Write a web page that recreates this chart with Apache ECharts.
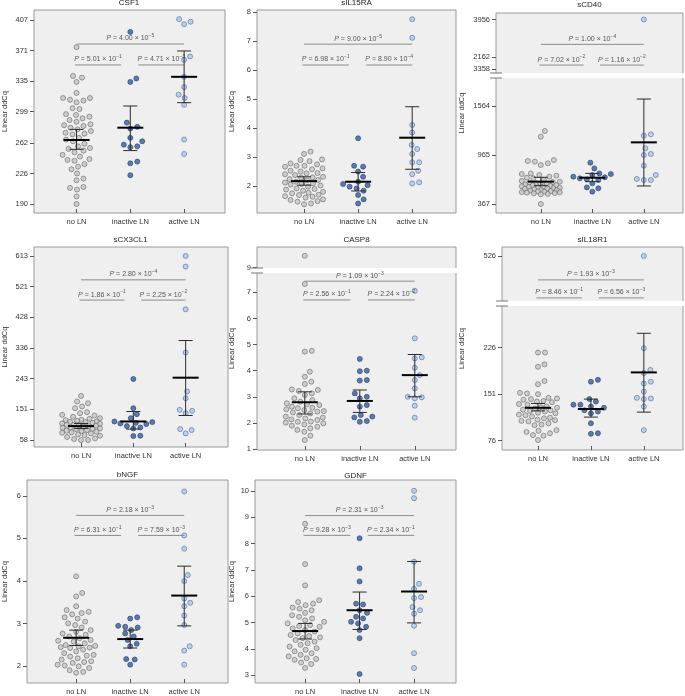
<!DOCTYPE html>
<html>
<head>
<meta charset="utf-8">
<title></title>
<script src="https://cdn.jsdelivr.net/npm/echarts@6/dist/echarts.min.js"></script>
<style>html,body{margin:0;padding:0;background:#fff}#chart{width:685px;height:696px}</style>
</head>
<body>
<div id="chart"></div>
<script>
var categories = ['no LN', 'inactive LN', 'active LN'];

// CSF1
var csf1NoLN = [375, 341, 339, 334, 321, 315, 315, 313, 312, 310, 303, 302, 296, 295, 293, 291, 289, 287, 284, 283, 282, 280, 278, 276, 274, 273, 272, 268, 266, 264, 261, 258, 256, 255, 253, 251, 248, 246, 243, 242, 241, 237, 234, 231, 226, 220, 218, 210, 209, 207, 199, 190];
var csf1Inactive = [393, 338, 334, 286, 281, 279, 268, 264, 260, 258, 257, 240, 238, 224];
var csf1Active = [408, 405, 402, 364, 360, 340, 328, 319, 315, 307, 266, 249];
var csf1Mean = [265.5, 280, 340];
var csf1Low = [254.5, 253, 309.5];
var csf1High = [278, 305.6, 370.5];
var csf1Ticks = [190, 226, 262, 299, 335, 371, 407];
var csf1P = [['4.00', '−5'], ['5.01', '−1'], ['4.71', '−3']];

// sIL15RA
var il15NoLN = [3.19, 3.11, 2.92, 2.9, 2.86, 2.78, 2.75, 2.7, 2.7, 2.67, 2.61, 2.58, 2.53, 2.5, 2.45, 2.44, 2.41, 2.38, 2.32, 2.3, 2.29, 2.24, 2.21, 2.2, 2.15, 2.12, 2.09, 2.07, 2.05, 2.02, 1.98, 1.92, 1.9, 1.88, 1.84, 1.8, 1.77, 1.75, 1.7, 1.69, 1.65, 1.63, 1.6, 1.54, 1.52, 1.48, 1.46, 1.4, 1.37];
var il15Inactive = [3.65, 2.7, 2.67, 2.5, 2.32, 2.15, 2.07, 2.03, 1.98, 1.92, 1.84, 1.69, 1.54, 1.4];
var il15Active = [7.76, 7.12, 4.11, 3.85, 3.42, 3.28, 3.11, 2.82, 2.82, 2.53, 2.41, 2.13, 2.09];
var il15Mean = [2.17, 2.15, 3.67];
var il15Low = [2.03, 1.83, 2.58];
var il15High = [2.32, 2.47, 4.74];
var il15Ticks = [2, 3, 4, 5, 6, 7, 8];
var il15P = [['9.00', '−5'], ['6.98', '−1'], ['8.90', '−4']];

// sCD40
var cd40NoLN = [1258, 1189, 904, 892, 884, 864, 843, 741, 733, 721, 713, 701, 688, 680, 660, 648, 640, 635, 627, 619, 615, 611, 605, 599, 595, 587, 583, 579, 575, 570, 565, 560, 558, 552, 546, 538, 535, 530, 525, 520, 518, 512, 510, 505, 500, 497, 490, 485, 367];
var cd40Inactive = [872, 802, 741, 733, 721, 701, 693, 680, 668, 660, 619, 570, 558, 518];
var cd40Active = [3956, 1218, 1201, 1047, 978, 965, 835, 721, 672, 660, 660];
var cd40Mean = [640, 688, 1120];
var cd40Low = [591, 640, 587];
var cd40High = [693, 741, 1649];
var cd40Ticks = [367, 965, 1564, 2162];
var cd40UpperTicks = [3358, 3956];
var cd40P = [['1.00', '−4'], ['7.02', '−2'], ['1.16', '−2']];

// sCX3CL1
var cx3NoLN = [191, 174, 169, 159, 154, 142, 139, 134, 132, 128, 124, 122, 119, 118, 116, 114, 113, 112, 110, 108, 107, 105, 104, 103, 101, 100, 98, 96, 95, 93, 92, 91, 88, 86, 85, 83, 81, 80, 78, 75, 73, 71, 67, 63, 61, 58, 58];
var cx3Inactive = [242, 154, 136, 124, 114, 112, 110, 108, 106, 100, 96, 93, 71, 70];
var cx3Active = [613, 581, 452, 322, 204, 184, 149, 146, 139, 91, 88, 78];
var cx3Mean = [100, 114, 246];
var cx3Low = [93, 91, 132];
var cx3High = [108, 144, 358];
var cx3Ticks = [58, 151, 243, 336, 428, 521, 613];
var cx3P = [['2.80', '−4'], ['1.86', '−1'], ['2.25', '−2']];

// CASP8
var casp8NoLN = [9.45, 7.32, 4.76, 4.73, 3.96, 3.77, 3.58, 3.49, 3.28, 3.26, 3.22, 3.13, 3.07, 2.94, 2.87, 2.81, 2.75, 2.71, 2.68, 2.62, 2.58, 2.56, 2.52, 2.49, 2.45, 2.43, 2.4, 2.36, 2.3, 2.24, 2.2, 2.17, 2.13, 2.11, 2.05, 2.04, 2.01, 1.98, 1.94, 1.89, 1.85, 1.79, 1.73, 1.66, 1.51, 1.34];
var casp8Inactive = [4.45, 4.0, 3.98, 3.64, 3.62, 3.13, 3.0, 2.94, 2.68, 2.62, 2.3, 2.24, 2.21, 2.07, 2.04];
var casp8Active = [7.06, 5.24, 4.51, 4.47, 4.11, 3.83, 3.64, 3.32, 3.0, 2.98, 2.94, 2.66, 2.2];
var casp8Mean = [2.79, 2.84, 3.83];
var casp8Low = [2.34, 2.4, 3.0];
var casp8High = [3.19, 3.26, 4.62];
var casp8Ticks = [1, 2, 3, 4, 5, 6, 7];
var casp8UpperTicks = [9];
var casp8P = [['1.09', '−3'], ['2.56', '−1'], ['2.24', '−2']];

// sIL18R1
var il18NoLN = [218, 218, 199, 195, 172, 167, 153, 152, 151, 145, 144, 143, 142, 140, 139, 138, 135, 134, 131, 130, 129, 128, 126, 125, 124, 123, 121, 120, 118, 117, 115, 113, 112, 110, 109, 108, 107, 104, 102, 101, 93, 92, 90, 88, 85, 84, 77];
var il18Inactive = [174, 171, 143, 139, 134, 134, 131, 129, 125, 123, 120, 104, 88, 87];
var il18Active = [526, 225, 190, 185, 171, 168, 155, 145, 144, 143, 131, 93];
var il18Mean = [129, 127, 186];
var il18Low = [124, 114, 122];
var il18High = [136, 143, 249];
var il18Ticks = [76, 151, 226];
var il18UpperTicks = [526];
var il18P = [['1.93', '−3'], ['8.46', '−1'], ['6.56', '−3']];

// bNGF
var ngfNoLN = [4.11, 3.72, 3.64, 3.41, 3.32, 3.28, 3.25, 3.22, 3.15, 3.12, 3.05, 3.01, 2.97, 2.91, 2.85, 2.81, 2.77, 2.74, 2.7, 2.66, 2.62, 2.6, 2.58, 2.54, 2.5, 2.48, 2.47, 2.45, 2.44, 2.43, 2.39, 2.35, 2.31, 2.27, 2.25, 2.23, 2.19, 2.16, 2.12, 2.1, 2.08, 2.04, 2.02, 2.0, 1.96, 1.91, 1.87, 1.85];
var ngfInactive = [3.15, 3.12, 2.95, 2.93, 2.91, 2.85, 2.77, 2.7, 2.62, 2.53, 2.47, 2.17, 2.16, 2.04];
var ngfActive = [6.1, 5.07, 4.76, 4.14, 4.0, 3.59, 3.49, 3.41, 3.19, 2.97, 2.47, 2.37, 2.04];
var ngfMean = [2.67, 2.64, 3.66];
var ngfLow = [2.49, 2.43, 2.95];
var ngfHigh = [2.85, 2.85, 4.35];
var ngfTicks = [2, 3, 4, 5, 6];
var ngfP = [['2.18', '−3'], ['6.31', '−1'], ['7.59', '−3']];

// GDNF
var gdnfNoLN = [8.75, 7.22, 6.41, 5.85, 5.78, 5.72, 5.66, 5.57, 5.53, 5.47, 5.37, 5.28, 5.22, 5.16, 5.09, 5.03, 4.97, 4.91, 4.87, 4.84, 4.78, 4.72, 4.66, 4.59, 4.53, 4.49, 4.44, 4.41, 4.34, 4.28, 4.22, 4.16, 4.09, 4.03, 3.97, 3.91, 3.84, 3.78, 3.72, 3.65, 3.62, 3.59, 3.49, 3.43, 3.28];
var gdnfInactive = [8.2, 7.06, 6.56, 5.72, 5.69, 5.47, 5.37, 5.22, 5.16, 5.03, 4.97, 4.84, 4.72, 4.41, 3.05];
var gdnfActive = [10.0, 9.72, 7.31, 6.47, 6.28, 5.97, 5.93, 5.59, 5.47, 5.34, 4.88, 3.84, 3.28];
var gdnfMean = [4.68, 5.47, 6.18];
var gdnfLow = [4.38, 4.74, 4.99];
var gdnfHigh = [4.97, 6.16, 7.32];
var gdnfTicks = [3, 4, 5, 6, 7, 8, 9, 10];
var gdnfP = [['2.31', '−3'], ['9.28', '−3'], ['2.34', '−1']];

var FONT = '"Liberation Sans", Arial, sans-serif';
var dots = [
    {color: '#c6c6c6', borderColor: '#6a6a6a'},
    {color: '#3a5c9b', borderColor: '#233f72'},
    {color: '#b5c7e2', borderColor: '#4b6ea6'}
];

// box = [left, top, right, bottom] in px, pY = levels of the P brackets (overall, pairwise)
var panels = [
    {title: 'CSF1', box: [33, 10, 225, 213], titleY: 3, nameX: 4, x: [-0.79, 2.76], y: [179.4, 418.8],
        ticks: csf1Ticks, groups: [csf1NoLN, csf1Inactive, csf1Active], mean: csf1Mean, low: csf1Low, high: csf1High, p: csf1P, pY: [378.7, 354]},
    {title: 'sIL15RA', box: [257, 10, 456, 213], titleY: 3, nameX: 232, x: [-0.87, 2.81], y: [1.07, 8.08],
        ticks: il15Ticks, groups: [il15NoLN, il15Inactive, il15Active], mean: il15Mean, low: il15Low, high: il15High, p: il15P, pY: [6.9, 6.18]},
    {title: 'sCD40', box: [496, 13, 683, 213], titleY: 5, nameX: 462, x: [-0.87, 2.76], y: [257, 2700],
        upper: {h: 60, y: [3314, 4034], ticks: cd40UpperTicks}, cut: 2000,
        ticks: cd40Ticks, groups: [cd40NoLN, cd40Inactive, cd40Active], mean: cd40Mean, low: cd40Low, high: cd40High, p: cd40P, pY: [2317, 2064]},
    {title: 'sCX3CL1', box: [33, 247, 228, 447], titleY: 240, nameX: 4, x: [-0.9, 2.81], y: [37, 640],
        ticks: cx3Ticks, groups: [cx3NoLN, cx3Inactive, cx3Active], mean: cx3Mean, low: cx3Low, high: cx3High, p: cx3P, pY: [541, 480]},
    {title: 'CASP8', box: [257, 247, 456, 450], titleY: 240, nameX: 232, x: [-0.87, 2.75], y: [0.96, 8.74],
        upper: {h: 21, y: [8.98, 9.79], ticks: casp8UpperTicks}, cut: 8.5,
        ticks: casp8Ticks, groups: [casp8NoLN, casp8Inactive, casp8Active], mean: casp8Mean, low: casp8Low, high: casp8High, p: casp8P, pY: [7.43, 6.71]},
    {title: 'sIL18R1', box: [502, 247, 683, 450], titleY: 240, nameX: 462, x: [-0.68, 2.74], y: [61, 388],
        upper: {h: 54, y: [453.4, 540.5], ticks: il18UpperTicks}, cut: 400,
        ticks: il18Ticks, groups: [il18NoLN, il18Inactive, il18Active], mean: il18Mean, low: il18Low, high: il18High, p: il18P, pY: [335, 306]},
    {title: 'bNGF', box: [27, 480, 228, 685], titleY: 475, nameX: 5, x: [-0.91, 2.81], y: [1.61, 6.37],
        ticks: ngfTicks, groups: [ngfNoLN, ngfInactive, ngfActive], mean: ngfMean, low: ngfLow, high: ngfHigh, p: ngfP, pY: [5.54, 5.07]},
    {title: 'GDNF', box: [255, 480, 456, 685], titleY: 476, nameX: 232, x: [-0.92, 2.77], y: [2.71, 10.41],
        ticks: gdnfTicks, groups: [gdnfNoLN, gdnfInactive, gdnfActive], mean: gdnfMean, low: gdnfLow, high: gdnfHigh, p: gdnfP, pY: [9.06, 8.31]}
];

// beeswarm: x offsets (axis units) for dots of diameter d px, kept within +-maxW px
function swarm(vals, pxX, pxY, d, maxW) {
    var order = vals.map(function (v, i) { return i; }).sort(function (a, b) { return vals[a] - vals[b]; });
    var placed = [], offs = [];
    order.forEach(function (i) {
        var y = vals[i] * pxY;
        var near = placed.filter(function (q) { return Math.abs(q[1] - y) < d; });
        var best = 0, bestDist = -1, found = false;
        for (var s = 0; s <= maxW && !found; s += 0.5) {
            var cands = s === 0 ? [0] : [s, -s];
            for (var k = 0; k < cands.length; k++) {
                var c = cands[k], m = Infinity;
                near.forEach(function (q) {
                    var dx = q[0] - c, dy = q[1] - y;
                    m = Math.min(m, Math.sqrt(dx * dx + dy * dy));
                });
                if (m >= d) { best = c; found = true; break; }
                if (m > bestDist) { bestDist = m; best = c; }
            }
        }
        placed.push([best, y]);
        offs[i] = best / pxX;
    });
    return offs;
}

function axisText(size) {
    return {fontSize: size, color: '#333', fontFamily: FONT};
}

function plainNum(v) {
    return String(v);
}

function renderErr(params, api) {
    var x = api.value(0);
    var pm = api.coord([x, api.value(1)]);
    var pl = api.coord([x, api.value(2)]);
    var ph = api.coord([x, api.value(3)]);
    var st = {stroke: '#2a2a2a', lineWidth: 1};
    return {type: 'group', children: [
        {type: 'line', shape: {x1: pl[0], y1: pl[1], x2: ph[0], y2: ph[1]}, style: st},
        {type: 'line', shape: {x1: pl[0] - 7, y1: pl[1], x2: pl[0] + 7, y2: pl[1]}, style: st},
        {type: 'line', shape: {x1: ph[0] - 7, y1: ph[1], x2: ph[0] + 7, y2: ph[1]}, style: st},
        {type: 'line', shape: {x1: pm[0] - 13, y1: pm[1], x2: pm[0] + 13, y2: pm[1]}, style: {stroke: '#000', lineWidth: 2}}
    ]};
}

function bracketRenderer(labels) {
    return function (params, api) {
        var y = api.value(2);
        var a = api.coord([api.value(0), y]);
        var b = api.coord([api.value(1), y]);
        return {type: 'group', children: [
            {type: 'line', shape: {x1: a[0], y1: a[1], x2: b[0], y2: b[1]}, style: {stroke: '#8c8c8c', lineWidth: 1}},
            {type: 'text', x: (a[0] + b[0]) / 2, y: a[1] - 0.5, style: {
                text: labels[params.dataIndex], align: 'center', verticalAlign: 'bottom',
                fill: '#555', fontSize: 7, fontFamily: FONT, lineHeight: 10,
                rich: {
                    i: {fontStyle: 'italic', fontSize: 7, fontFamily: FONT, fill: '#555', lineHeight: 10},
                    n: {fontSize: 7, fontFamily: FONT, fill: '#555', lineHeight: 10},
                    s: {fontSize: 5, fontFamily: FONT, fill: '#555', lineHeight: 6, verticalAlign: 'top'}
                }
            }}
        ]};
    };
}

var option = {animation: false, grid: [], xAxis: [], yAxis: [], series: [], graphic: []};

panels.forEach(function (p) {
    var L = p.box[0], T = p.box[1], R = p.box[2], B = p.box[3];
    var W = R - L, H = B - T;
    var g = option.grid.length;
    option.grid.push({left: L, top: T, width: W, height: H, show: true,
        backgroundColor: '#efefef', borderColor: '#9a9a9a', borderWidth: 1});
    option.xAxis.push({type: 'value', gridIndex: g, min: p.x[0], max: p.x[1],
        splitLine: {show: false}, axisLine: {show: false, onZero: false},
        axisTick: {inside: true, length: 4, customValues: [0, 1, 2], lineStyle: {color: '#555'}},
        axisLabel: Object.assign({customValues: [0, 1, 2], margin: 5,
            formatter: function (v) { return categories[Math.round(v)]; }}, axisText(7.5))});
    option.yAxis.push({type: 'value', gridIndex: g, min: p.y[0], max: p.y[1],
        splitLine: {show: false}, axisLine: {show: false, onZero: false},
        axisTick: {length: 4, customValues: p.ticks, lineStyle: {color: '#555'}},
        axisLabel: Object.assign({customValues: p.ticks, margin: 6, formatter: plainNum}, axisText(7.5)),
        name: 'Linear ddCq', nameLocation: 'middle', nameGap: L - p.nameX - 4,
        nameTextStyle: axisText(7.5)});

    var gu = -1;
    if (p.upper) {
        gu = option.grid.length;
        option.grid.push({left: L, top: T, width: W, height: p.upper.h, show: false});
        option.xAxis.push({type: 'value', gridIndex: gu, min: p.x[0], max: p.x[1], show: false});
        option.yAxis.push({type: 'value', gridIndex: gu, min: p.upper.y[0], max: p.upper.y[1],
            splitLine: {show: false}, axisLine: {show: false, onZero: false},
            axisTick: {length: 4, customValues: p.upper.ticks, lineStyle: {color: '#555'}},
            axisLabel: Object.assign({customValues: p.upper.ticks, margin: 6, formatter: plainNum}, axisText(7.5))});
        var yb = T + p.upper.h;
        option.graphic.push({type: 'rect', silent: true, z: 1,
            shape: {x: L - 1, y: yb, width: W + 3, height: 5}, style: {fill: '#fff'}});
        option.graphic.push({type: 'line', silent: true, z: 101,
            shape: {x1: L - 6, y1: yb, x2: L + 6, y2: yb}, style: {stroke: '#777', lineWidth: 1}});
        option.graphic.push({type: 'line', silent: true, z: 101,
            shape: {x1: L - 6, y1: yb + 5, x2: L + 6, y2: yb + 5}, style: {stroke: '#777', lineWidth: 1}});
    }

    var pxX = W / (p.x[1] - p.x[0]);
    var pxY = H / (p.y[1] - p.y[0]);
    p.groups.forEach(function (vals, gi) {
        var lowVals = vals.filter(function (v) { return !p.cut || v <= p.cut; });
        var offs = swarm(lowVals, pxX, pxY, 6.8, 19);
        option.series.push({type: 'scatter', xAxisIndex: g, yAxisIndex: g, symbolSize: 5, z: 3,
            itemStyle: {color: dots[gi].color, borderColor: dots[gi].borderColor, borderWidth: 0.8},
            data: lowVals.map(function (v, i) { return [gi + offs[i], v]; })});
        if (p.upper) {
            var hiVals = vals.filter(function (v) { return v > p.cut; });
            if (hiVals.length) {
                var pxYu = p.upper.h / (p.upper.y[1] - p.upper.y[0]);
                var offsU = swarm(hiVals, pxX, pxYu, 6.8, 19);
                option.series.push({type: 'scatter', xAxisIndex: gu, yAxisIndex: gu, symbolSize: 5, z: 3,
                    itemStyle: {color: dots[gi].color, borderColor: dots[gi].borderColor, borderWidth: 0.8},
                    data: hiVals.map(function (v, i) { return [gi + offsU[i], v]; })});
            }
        }
    });

    option.series.push({type: 'custom', xAxisIndex: g, yAxisIndex: g, z: 5, renderItem: renderErr,
        encode: {x: 0, y: [1, 2, 3]},
        data: [0, 1, 2].map(function (i) { return [i, p.mean[i], p.low[i], p.high[i]]; })});

    var labels = p.p.map(function (a) { return '{i|P}{n| = ' + a[0] + ' × 10}{s|' + a[1] + '}'; });
    option.series.push({type: 'custom', xAxisIndex: g, yAxisIndex: g, z: 4, renderItem: bracketRenderer(labels),
        encode: {x: [0, 1], y: 2},
        data: [[0, 2, p.pY[0]], [-0.03, 0.83, p.pY[1]], [1.15, 2, p.pY[1]]]});

    option.graphic.push({type: 'text', silent: true, x: (L + R) / 2, y: p.titleY,
        style: {text: p.title, align: 'center', verticalAlign: 'middle', fill: '#222', fontSize: 8, fontFamily: FONT}});
});

var myChart = echarts.init(document.getElementById('chart'));
myChart.setOption(option);
</script>
</body>
</html>
